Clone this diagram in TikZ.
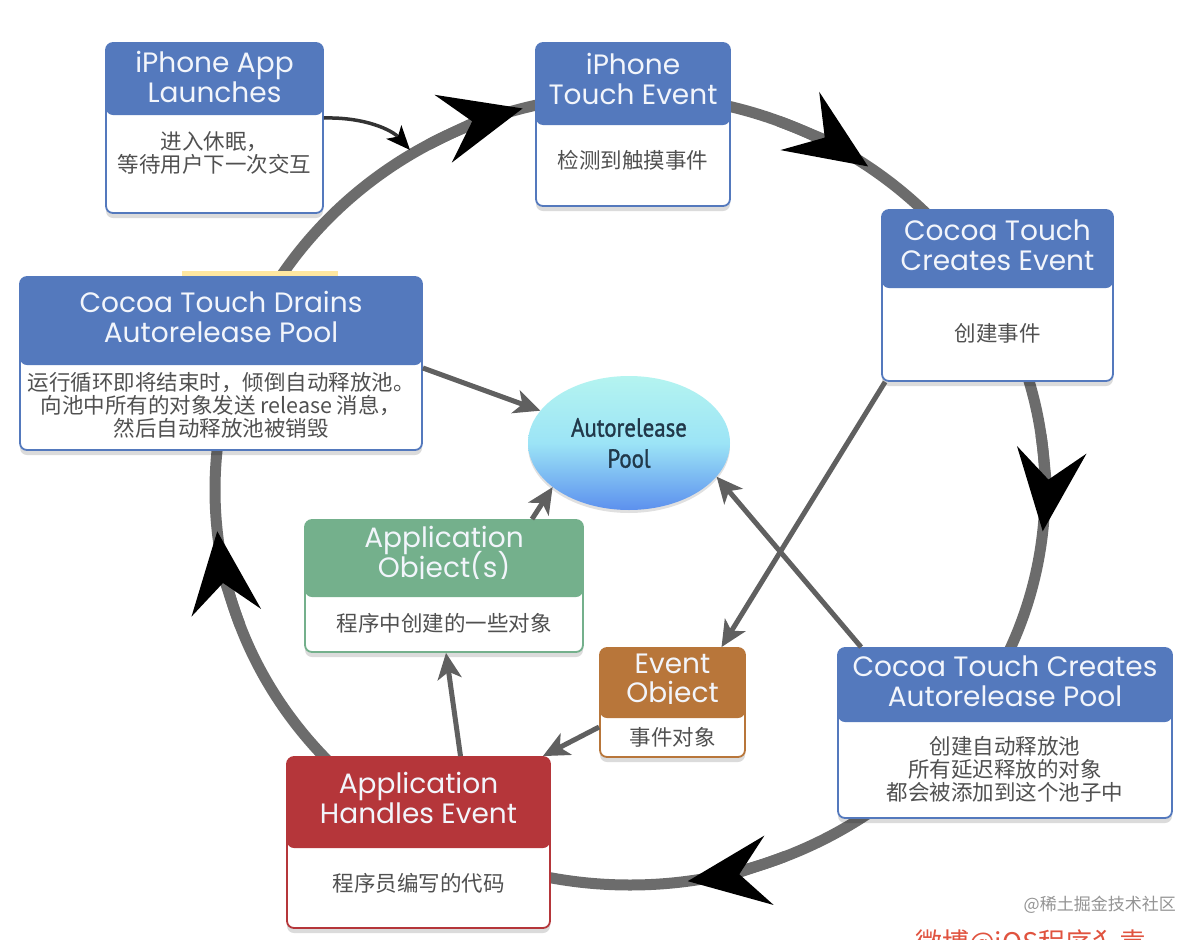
\documentclass[tikz,border=0pt]{standalone}
\usepackage{fontspec}
\setmainfont{Poppins}
\newfontfamily\hdrfont{Poppins}
\newfontfamily\cjk{Noto Sans CJK SC}
\newfontfamily\poolfont[FakeStretch=0.88,FakeBold=1.2]{PT Sans}
\usetikzlibrary{arrows.meta,shadows,calc,shapes.geometric}
\definecolor{cblue}{HTML}{5479BD}
\definecolor{cgreen}{HTML}{74B08C}
\definecolor{corange}{HTML}{B8763A}
\definecolor{cred}{HTML}{B5363A}
\definecolor{ringc}{HTML}{6C6C6C}
\definecolor{connc}{HTML}{606060}
\definecolor{bodytxt}{HTML}{505050}
\definecolor{hdrtxt}{HTML}{F2F5FB}
\definecolor{pooltxt}{HTML}{21384A}
\definecolor{pooltop}{HTML}{B4F4F0}
\definecolor{poolmid}{HTML}{9CE4F6}
\definecolor{poolbot}{HTML}{5C90EE}
\definecolor{wmred}{HTML}{E0533F}
\begin{document}
\begin{tikzpicture}[x=1pt,y=-1pt,
  card/.style={rectangle,rounded corners=7pt,line width=1.8pt,fill=white,inner sep=0pt,
    drop shadow={shadow xshift=0pt,shadow yshift=-5pt,opacity=0.14,fill=black}},
  hdrfill/.style 2 args={path picture={\fill[#1] ([yshift=2pt]path picture bounding box.north west) rectangle ([yshift=-#2]path picture bounding box.north east);}},
  hdr/.style={font=\hdrfont\fontsize{28}{30}\selectfont,text=hdrtxt,align=center,inner sep=0pt},
  bodyt/.style={font=\cjk\fontsize{21.5}{23}\selectfont,text=bodytxt,align=center,inner sep=0pt},
  conna/.style={draw=connc,line width=5pt,-{Stealth[length=26pt,width=24pt,inset=7pt]}},
  bighead/.style={draw=ringc,line width=11pt,-{Stealth[length=82pt,width=70pt,inset=30pt,line width=0pt,black]}},
]
\fill[white] (0,0) rectangle (1200,940);
\useasboundingbox (0,0) rectangle (1200,940);

% ring
\draw[ringc,line width=11pt] (630,490) ellipse [x radius=415,y radius=395];
\foreach \a in {255,305,6,82,174}{
  \draw[bighead] ($(630,490)+(\a-14:415 and 395)$) arc[start angle=\a-14,end angle=\a,x radius=415,y radius=395];
}
\coordinate (c1) at (410,150);

% yellow strip
\fill[yellow!55!orange!35] (182,271) rectangle (338,280);

% boxes
\node[card,draw=cblue,hdrfill={cblue}{72pt},minimum width=217pt,minimum height=170pt] (b1) at (214.5,128) {};
\node[hdr] (b1h) at (214.5,77) {iPhone App\\Launches};
\node[bodyt] (b1b) at (214.5,153) {进入休眠，\\等待用户下一次交互};

\node[card,draw=cblue,hdrfill={cblue}{82pt},minimum width=194pt,minimum height=163pt] (b2) at (633,124.5) {};
\node[hdr] (b2h) at (633,79) {iPhone\\Touch Event};
\node[bodyt] (b2b) at (633,160) {检测到触摸事件};

\node[card,draw=cblue,hdrfill={cblue}{78pt},minimum width=231pt,minimum height=171pt] (b3) at (997.5,295.5) {};
\node[hdr] (b3h) at (997.5,245) {Cocoa Touch\\Creates Event};
\node[bodyt] (b3b) at (997.5,333) {创建事件};

\node[card,draw=cblue,hdrfill={cblue}{88pt},minimum width=402pt,minimum height=173pt] (b4) at (221,363.5) {};
\node[hdr] (b4h) at (221,317) {Cocoa Touch Drains\\Autorelease Pool};
\node[bodyt] (b4b) at (221,405) {运行循环即将结束时，倾倒自动释放池。\\向池中所有的对象发送 release 消息，\\然后自动释放池被销毁};

\node[ellipse,minimum width=202pt,minimum height=134pt,inner sep=0pt,
  top color=pooltop,bottom color=poolbot,middle color=poolmid,
  drop shadow={shadow xshift=0pt,shadow yshift=-3pt,opacity=0.12,fill=black},
  font=\poolfont\fontsize{26}{31}\selectfont,text=pooltxt,align=center] (pool) at (629,443) {Autorelease\\Pool};

\node[card,draw=cgreen,hdrfill={cgreen}{77pt},minimum width=278pt,minimum height=132pt] (b6) at (444,586) {};
\node[hdr,anchor=base] (b6h) at (444,547) {Application};
\begin{scope}
  \clip (300,550) rectangle (590,578.5);
  \node[hdr,anchor=base] (b6h2) at (444,577) {Object(s)};
\end{scope}
\node[bodyt] (b6b) at (444,623) {程序中创建的一些对象};

\node[card,draw=corange,hdrfill={corange}{70pt},minimum width=145pt,minimum height=109pt] (b7) at (672.5,702.5) {};
\node[hdr,anchor=base] (b7h) at (672.5,673) {Event};
\begin{scope}
  \clip (600,676) rectangle (745,703.5);
  \node[hdr,anchor=base] (b7h2) at (672.5,702) {Object};
\end{scope}
\node[bodyt] (b7b) at (672.5,737) {事件对象};

\node[card,draw=cblue,hdrfill={cblue}{74pt},minimum width=334pt,minimum height=170pt] (b8) at (1005,733) {};
\node[hdr] (b8h) at (1005,681) {Cocoa Touch Creates\\Autorelease Pool};
\node[bodyt] (b8b) at (1005,769) {创建自动释放池\\所有延迟释放的对象\\都会被添加到这个池子中};

\node[card,draw=cred,hdrfill={cred}{91pt},minimum width=263pt,minimum height=171pt] (b9) at (418.5,842.5) {};
\node[hdr] (b9h) at (418.5,797.5) {Application\\Handles Event};
\node[bodyt] (b9b) at (418.5,883) {程序员编写的代码};

% connectors
\draw[draw=black!80,line width=3.5pt,-{Stealth[length=24pt,width=20pt,inset=6pt,black]}]
  ([yshift=10pt]b1.east) .. controls (365,117) and (392,130) .. (c1);
\draw[conna] ([yshift=-4.5pt]b4.east) -- (pool.160);
\draw[conna] ([xshift=88pt]b6.north) -- (pool.210);
\draw[conna] ([xshift=4pt]b3.south west) -- ([xshift=49pt]b7.north);
\draw[conna] ([xshift=24pt]b8.north west) -- (pool.-21);
\draw[conna] ([yshift=-24.5pt]b7.west) -- ([xshift=-8pt]b9.north east);
\draw[conna] ([xshift=42pt]b9.north) -- ([xshift=2pt]b6.south);

% watermarks
\node[font=\cjk\fontsize{17}{17}\selectfont,text=black!42,anchor=east,inner sep=0pt] (wm1) at (1176,905) {@稀土掘金技术社区};
\node[font=\cjk\fontsize{27}{27}\selectfont,text=wmred,anchor=north west,inner sep=0pt] (wm2) at (915,929) {微博@iOS程序犭袁};
\end{tikzpicture}
\end{document}
